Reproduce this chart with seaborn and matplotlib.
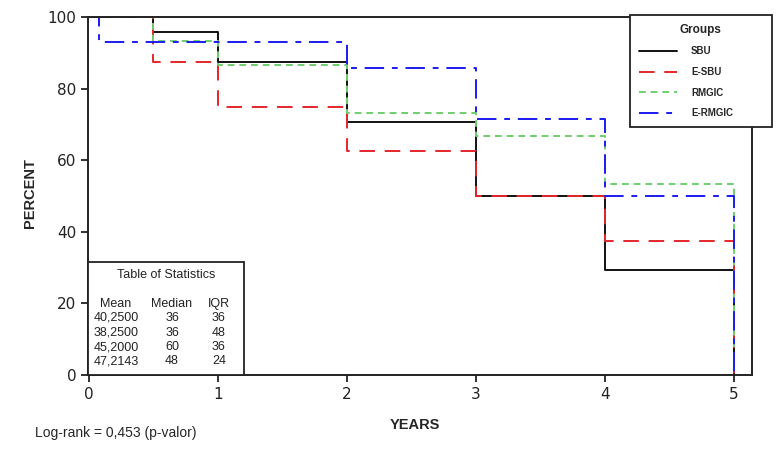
import pandas as pd
import numpy as np
import matplotlib
matplotlib.use('Agg')
import matplotlib.pyplot as plt
from matplotlib.patches import Rectangle
import seaborn as sns

# Kaplan-Meier style step data (percent surviving by year)
groups = ['SBU', 'E-SBU', 'RMGIC', 'E-RMGIC']
sbu_t = [0, 0.5, 1, 2, 3, 4, 5]
sbu_p = [100, 95.8, 87.5, 70.8, 50.0, 29.2, 0]
esbu_t = [0, 0.5, 1, 2, 3, 4, 5]
esbu_p = [100, 87.5, 75.0, 62.5, 50.0, 37.5, 0]
rmgic_t = [0, 0.5, 1, 2, 3, 4, 5]
rmgic_p = [100, 93.3, 86.7, 73.3, 66.7, 53.3, 0]
ermgic_t = [0, 0.08, 2, 3, 4, 5]
ermgic_p = [100, 92.9, 85.7, 71.4, 50.0, 0]

stat_mean = ['40,2500', '38,2500', '45,2000', '47,2143']
stat_median = ['36', '36', '60', '48']
stat_iqr = ['36', '48', '36', '24']

colors = {'SBU': '#111111', 'E-SBU': '#e3262b', 'RMGIC': '#6fcf6f', 'E-RMGIC': '#1c1cf0'}
dashes = {'SBU': '', 'E-SBU': (8, 5), 'RMGIC': (3.5, 2.5), 'E-RMGIC': (10, 4, 3, 4)}

frames = []
for g, t, p in zip(groups, [sbu_t, esbu_t, rmgic_t, ermgic_t], [sbu_p, esbu_p, rmgic_p, ermgic_p]):
    frames.append(pd.DataFrame({'years': t, 'percent': p, 'group': g}))
df = pd.concat(frames, ignore_index=True)

sns.set_theme(style='ticks')
plt.rcParams['font.family'] = ['DejaVu Sans']

fig = plt.figure(figsize=(7.84, 4.53), dpi=100)
ax = fig.add_axes([88 / 784, 1 - 375 / 453, 664 / 784, 358 / 453])

sns.lineplot(data=df, x='years', y='percent', hue='group', style='group',
             hue_order=groups, style_order=groups, palette=colors, dashes=dashes,
             drawstyle='steps-post', estimator=None, sort=False, linewidth=1.4,
             ax=ax, legend=True)

ax.set_xlim(-0.005, 5.14)
ax.set_ylim(0, 100)
ax.set_xticks([0, 1, 2, 3, 4, 5])
ax.set_yticks([0, 20, 40, 60, 80, 100])
ax.tick_params(axis='both', labelsize=11, direction='out', length=5, width=1.3, colors='#222222')
for s in ax.spines.values():
    s.set_color('#222222')
    s.set_linewidth(1.4)

ax.set_xlabel('')
ax.set_ylabel('')
fig.text(30 / 784, 1 - 193 / 453, 'PERCENT', rotation=90, ha='center', va='center',
         fontsize=10.5, fontweight='bold', family='Liberation Sans')
fig.text(415 / 784, 1 - 425 / 453, 'YEARS', ha='center', va='center',
         fontsize=10.5, fontweight='bold', family='Liberation Sans')
fig.text(35 / 784, 1 - 433 / 453, 'Log-rank = 0,453 (p-valor)', ha='left', va='center',
         fontsize=10, family='Liberation Sans')

# legend box
handles, labels = ax.get_legend_handles_labels()
leg = ax.legend(handles, labels, title='Groups', loc='upper left',
                bbox_to_anchor=(0.816, 1.006, 0.214, 0.0), mode='expand', borderaxespad=0,
                frameon=True, fancybox=False, edgecolor='#222222', framealpha=1,
                prop={'family': 'Liberation Sans', 'weight': 'bold', 'size': 7},
                title_fontproperties={'family': 'Liberation Sans', 'weight': 'bold', 'size': 8.5},
                handlelength=4.0, labelspacing=1.1, borderpad=0.9, handletextpad=1.4)
leg.get_frame().set_linewidth(1.3)
leg.set_zorder(10)

# table of statistics
tw, th = (244 - 88) / 664, (375 - 262) / 358
ax.add_patch(Rectangle((0, 0), tw, th, transform=ax.transAxes, facecolor='white',
                       edgecolor='#222222', linewidth=1.3, zorder=8, clip_on=False))
tfont = dict(family='Liberation Sans', fontsize=9, color='#222222', zorder=9,
             transform=ax.transAxes, va='center')
ax.text(tw / 2, (375 - 275) / 358, 'Table of Statistics', ha='center', **tfont)
col_x = [(116 - 88) / 664, (172 - 88) / 664, (219 - 88) / 664]
ax.text(col_x[0], (375 - 304) / 358, 'Mean', ha='center', **tfont)
ax.text(col_x[1], (375 - 304) / 358, 'Median', ha='center', **tfont)
ax.text(col_x[2], (375 - 304) / 358, 'IQR', ha='center', **tfont)
for i in range(len(stat_mean)):
    yy = (375 - (318 + i * 14.5)) / 358
    ax.text(col_x[0], yy, stat_mean[i], ha='center', **tfont)
    ax.text(col_x[1], yy, stat_median[i], ha='center', **tfont)
    ax.text(col_x[2], yy, stat_iqr[i], ha='center', **tfont)

plt.savefig('out.png', dpi=100)
plt.close()
